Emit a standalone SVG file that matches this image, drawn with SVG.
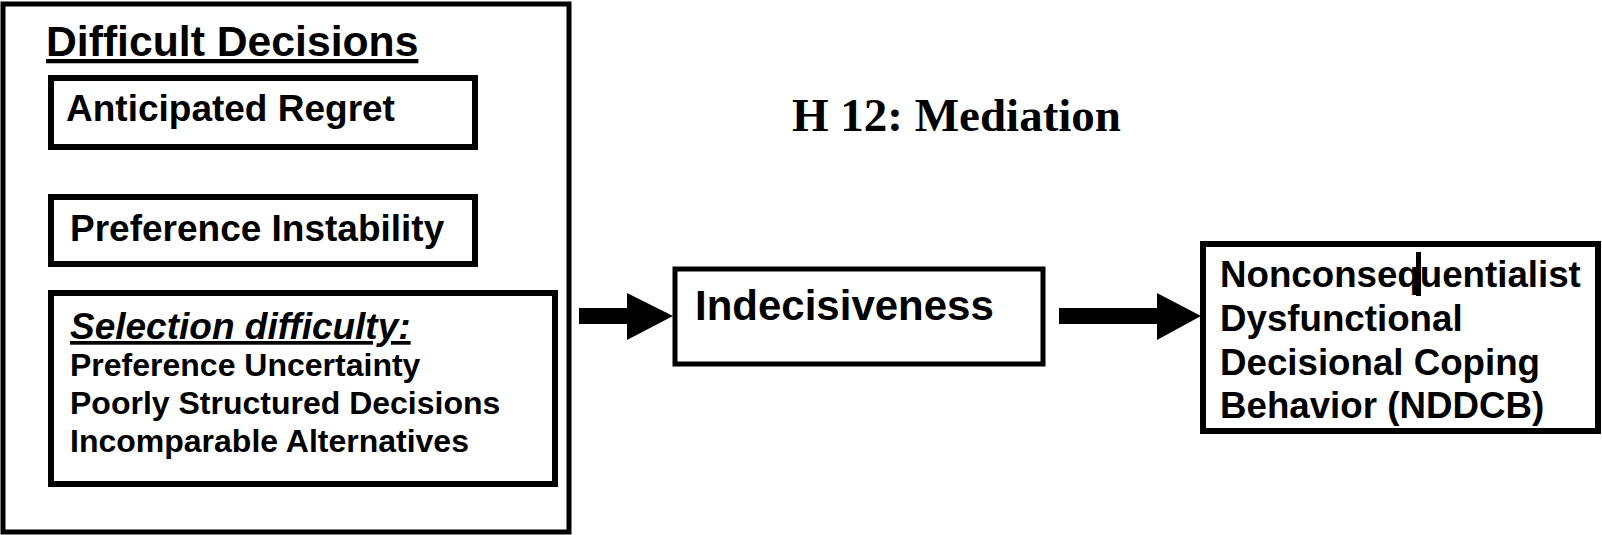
<svg xmlns="http://www.w3.org/2000/svg" width="1602" height="535" viewBox="0 0 1602 535">
<style>
.box{fill:#fff;stroke:#000;stroke-width:5}
.ibox{fill:#fff;stroke:#000;stroke-width:6}
.t{font-family:"Liberation Sans",Arial,sans-serif;font-weight:bold;fill:#000}
.s{font-family:"Liberation Serif","Times New Roman",serif;font-weight:bold;fill:#000}
.arr{fill:#000;stroke:none}
</style>
<rect width="1602" height="535" fill="#fff"/>
<g id="difficult-decisions">
<rect class="box" x="3" y="4" width="566" height="528"/>
<text class="t" x="46" y="56" font-size="42.7" text-decoration="underline">Difficult Decisions</text>
</g>
<g id="anticipated-regret">
<rect class="ibox" x="51" y="78" width="424" height="69"/>
<text class="t" x="66" y="121" font-size="37">Anticipated Regret</text>
</g>
<g id="preference-instability">
<rect class="ibox" x="51" y="197" width="424" height="67"/>
<text class="t" x="70" y="241" font-size="37">Preference Instability</text>
</g>
<g id="selection-difficulty">
<rect class="ibox" x="51" y="293" width="504" height="191"/>
<text class="t" x="70" y="339" font-size="37" font-style="italic" text-decoration="underline">Selection difficulty:</text>
<text class="t" x="70" y="376" font-size="32">Preference Uncertainty</text>
<text class="t" x="70" y="414" font-size="32">Poorly Structured Decisions</text>
<text class="t" x="70" y="452" font-size="32">Incomparable Alternatives</text>
</g>
<g id="mediation-label">
<text class="s" x="792" y="131" font-size="47">H 12: Mediation</text>
</g>
<g id="indecisiveness">
<rect class="box" x="675" y="269" width="368" height="95"/>
<text class="t" x="695" y="320" font-size="42">Indecisiveness</text>
</g>
<g id="nddcb">
<rect class="ibox" x="1203" y="244" width="395" height="187"/>
<text class="t" x="1220" y="287" font-size="36.7">Nonconsequentialist</text>
<text class="t" x="1220" y="331" font-size="36.7">Dysfunctional</text>
<text class="t" x="1220" y="375" font-size="36.7">Decisional Coping</text>
<text class="t" x="1220" y="418" font-size="36.7">Behavior (NDDCB)</text>
<rect x="1416" y="252" width="5" height="44" fill="#000"/>
</g>
<g id="connectors">
<polygon class="arr" points="579,308 627,308 627,293 673,316 627,340 627,324 579,324"/>
<polygon class="arr" points="1059,308 1157,308 1157,293 1201,316 1157,340 1157,324 1059,324"/>
</g>
</svg>
